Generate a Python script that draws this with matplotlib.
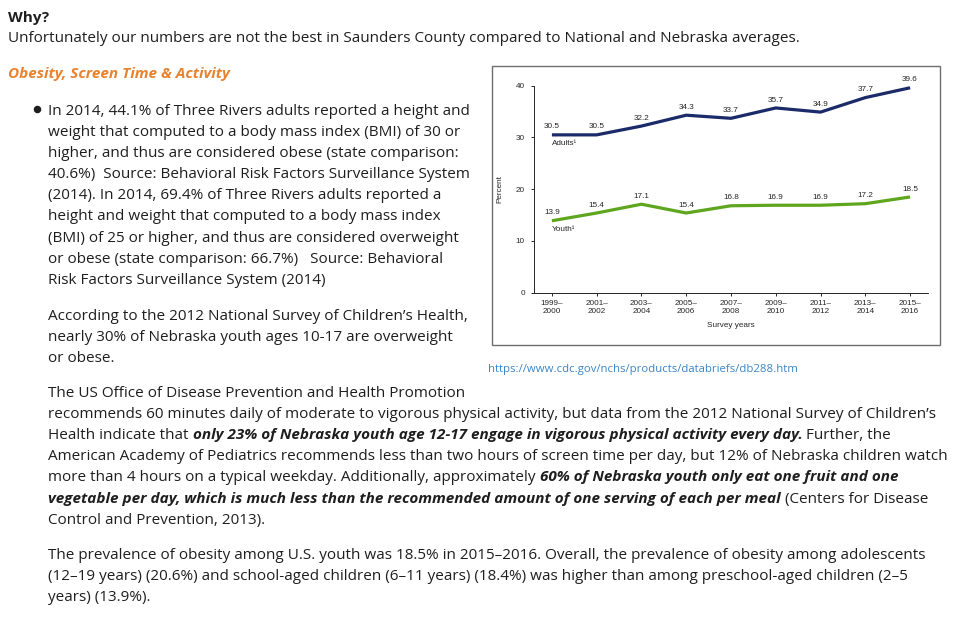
import matplotlib
matplotlib.use("Agg")
import matplotlib.pyplot as plt
from matplotlib.patches import Rectangle
from matplotlib.lines import Line2D

# ------------------------------------------------------------
# Data (obesity prevalence, percent)
# ------------------------------------------------------------
survey_years = ["1999–\n2000", "2001–\n2002", "2003–\n2004", "2005–\n2006",
                "2007–\n2008", "2009–\n2010", "2011–\n2012", "2013–\n2014",
                "2015–\n2016"]
adults = [30.5, 30.5, 32.2, 34.3, 33.7, 35.7, 34.9, 37.7, 39.6]
youth = [13.9, 15.4, 17.1, 15.4, 16.8, 16.9, 16.9, 17.2, 18.5]
y_ticks = [0, 10, 20, 30, 40]

W, H = 972, 621
PAGE_FONT = "Open Sans"
TEXT_COLOR = "#1e1e1e"
BODY_SIZE = 10.95

fig = plt.figure(figsize=(W / 100, H / 100), dpi=100)
fig.patch.set_facecolor("white")


def fx(x):
    return x / W


def fy(y):
    return 1 - y / H


def put(x, y, s, **kw):
    """Place text with its baseline at pixel (x, y) measured from top-left."""
    kw.setdefault("fontsize", BODY_SIZE)
    kw.setdefault("family", PAGE_FONT)
    kw.setdefault("color", TEXT_COLOR)
    return fig.text(fx(x), fy(y), s, va="baseline", ha="left", **kw)


renderer = fig.canvas.get_renderer()


def text_width(s, **kw):
    t = put(0, 0, s, **kw)
    w = t.get_window_extent(renderer).width
    t.remove()
    return w


def rich_line(x, y, runs):
    """runs: list of (text, emphasised) joined by single spaces."""
    space = text_width("a a") - text_width("aa")
    for text, emph in runs:
        kw = {}
        if emph:
            kw = dict(fontweight="bold", fontstyle="italic")
        t = put(x, y, text, **kw)
        x += t.get_window_extent(renderer).width + space


# ------------------------------------------------------------
# Page text
# ------------------------------------------------------------
put(8, 22, "Why?", fontweight="bold")
put(8, 42, "Unfortunately our numbers are not the best in Saunders County "
           "compared to National and Nebraska averages.")
put(8, 78, "Obesity, Screen Time & Activity", fontweight="bold",
    fontstyle="italic", color="#e8822e")

bullet_lines = [
    "In 2014, 44.1% of Three Rivers adults reported a height and",
    "weight that computed to a body mass index (BMI) of 30 or",
    "higher, and thus are considered obese (state comparison:",
    "40.6%)  Source: Behavioral Risk Factors Surveillance System",
    "(2014). In 2014, 69.4% of Three Rivers adults reported a",
    "height and weight that computed to a body mass index",
    "(BMI) of 25 or higher, and thus are considered overweight",
    "or obese (state comparison: 66.7%)   Source: Behavioral",
    "Risk Factors Surveillance System (2014)",
]
fig.add_artist(Line2D([fx(36.5)], [fy(109)], marker="o", markersize=4.4,
                      color=TEXT_COLOR, transform=fig.transFigure))
for i, line in enumerate(bullet_lines):
    put(48, 115 + 21.1 * i, line)

child_lines = [
    "According to the 2012 National Survey of Children’s Health,",
    "nearly 30% of Nebraska youth ages 10-17 are overweight",
    "or obese.",
]
for i, line in enumerate(child_lines):
    put(48, 320 + 21.1 * i, line)

put(488, 372, "https://www.cdc.gov/nchs/products/databriefs/db288.htm",
    fontsize=8.2, color="#3b86c6")

activity_lines = [
    [("The US Office of Disease Prevention and Health Promotion", False)],
    [("recommends 60 minutes daily of moderate to vigorous physical activity, "
      "but data from the 2012 National Survey of Children’s", False)],
    [("Health indicate that", False),
     ("only 23% of Nebraska youth age 12-17 engage in vigorous physical "
      "activity every day.", True),
     ("Further, the", False)],
    [("American Academy of Pediatrics recommends less than two hours of "
      "screen time per day, but 12% of Nebraska children watch", False)],
    [("more than 4 hours on a typical weekday. Additionally, approximately",
      False),
     ("60% of Nebraska youth only eat one fruit and one", True)],
    [("vegetable per day, which is much less than the recommended amount "
      "of one serving of each per meal", True),
     ("(Centers for Disease", False)],
    [("Control and Prevention, 2013).", False)],
]
for i, runs in enumerate(activity_lines):
    rich_line(48, 397 + 21.1 * i, runs)

prevalence_lines = [
    "The prevalence of obesity among U.S. youth was 18.5% in 2015–2016. "
    "Overall, the prevalence of obesity among adolescents",
    "(12–19 years) (20.6%) and school-aged children (6–11 years) (18.4%) "
    "was higher than among preschool-aged children (2–5",
    "years) (13.9%).",
]
for i, line in enumerate(prevalence_lines):
    put(48, 559 + 21.1 * i, line)

# ------------------------------------------------------------
# Embedded chart
# ------------------------------------------------------------
fig.add_artist(Rectangle((fx(492), fy(345)), fx(940 - 492), (345 - 66) / H,
                         transform=fig.transFigure, fill=False,
                         edgecolor="#6e6e6e", linewidth=1.0))

ax = fig.add_axes([fx(534), fy(292.7), fx(928 - 534), (292.7 - 85.7) / H])
chart_font = "Liberation Sans"
chart_size = 5.9
chart_text = "#262626"
navy = "#1b2a68"
green = "#5ea61e"
x = list(range(len(survey_years)))

ax.plot(x, adults, color=navy, linewidth=2.3, solid_capstyle="butt")
ax.plot(x, youth, color=green, linewidth=2.3, solid_capstyle="butt")

for xi, v in zip(x, adults):
    ax.annotate(f"{v}", (xi, v), xytext=(0, 3.2), textcoords="offset points",
                ha="center", va="bottom", fontsize=chart_size,
                family=chart_font, color=chart_text)
for xi, v in zip(x, youth):
    ax.annotate(f"{v}", (xi, v), xytext=(0, 3.2), textcoords="offset points",
                ha="center", va="bottom", fontsize=chart_size,
                family=chart_font, color=chart_text)

ax.annotate("Adults¹", (x[0], adults[0]), xytext=(0, -3.5),
            textcoords="offset points", ha="left", va="top",
            fontsize=chart_size, family=chart_font, color=chart_text)
ax.annotate("Youth¹", (x[0], youth[0]), xytext=(0, -3.5),
            textcoords="offset points", ha="left", va="top",
            fontsize=chart_size, family=chart_font, color=chart_text)

ax.set_xlim(-0.4, 8.4)
ax.set_ylim(0, 40)
ax.set_xticks(x)
ax.set_xticklabels(survey_years, fontsize=chart_size, family=chart_font,
                   color=chart_text, linespacing=1.2)
ax.set_yticks(y_ticks)
ax.set_yticklabels([str(t) for t in y_ticks], fontsize=chart_size,
                   family=chart_font, color=chart_text)
ax.tick_params(length=2.5, width=0.7, colors=chart_text)
ax.tick_params(axis="x", pad=3)
ax.tick_params(axis="y", pad=4)
ax.set_ylabel("Percent", fontsize=chart_size, family=chart_font,
              color=chart_text, labelpad=9)
ax.set_xlabel("Survey years", fontsize=chart_size, family=chart_font,
              color=chart_text, labelpad=5)
for side in ["top", "right"]:
    ax.spines[side].set_visible(False)
for side in ["left", "bottom"]:
    ax.spines[side].set_linewidth(0.7)
    ax.spines[side].set_color(chart_text)

fig.savefig("out.png", dpi=100)
